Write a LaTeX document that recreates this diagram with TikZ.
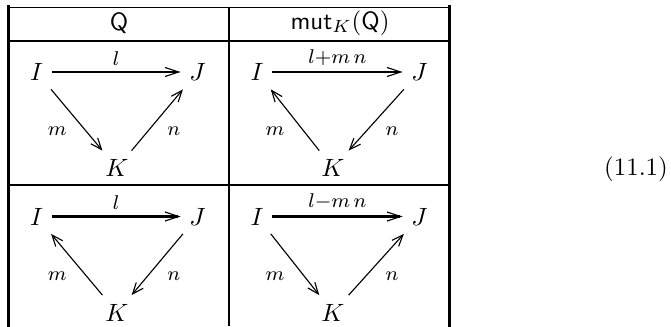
\documentclass[tikz,border=0pt]{standalone}
\usetikzlibrary{arrows.meta}
\begin{document}
\begin{tikzpicture}[x=0.4pt,y=-0.4pt,
  obj/.style={inner sep=3.33pt, font=\normalsize},
  lab/.style={inner sep=1pt, font=\footnotesize},
  hdr/.style={inner sep=0pt, font=\normalsize},
  frame/.style={line width=1.2pt, line cap=rect},
  rule/.style={line width=0.75pt},
  arr/.style={line width=0.45pt, -{Straight Barb[length=4.5pt,width=3.6pt,line width=0.45pt]}},
  harr/.style={line width=0.85pt, -{Straight Barb[length=5.5pt,width=3.6pt,line width=0.45pt]}}]
\useasboundingbox (0,0) rectangle (671,326);
% table lines
\draw[rule] (8,7.5) -- (450,7.5);
\draw[rule] (8,41) -- (450,41);
\draw[rule] (8,185) -- (450,185);
\draw[frame] (8.5,7) -- (8.5,326);
\draw[rule] (229,7) -- (229,326);
\draw[frame] (449.5,7) -- (449.5,326);
% headers
\node[hdr] (h1) at (119,23) {$\mathsf{Q}$};
\node[hdr] (h2) at (340,23) {$\mathsf{mut}_K(\mathsf{Q})$};
% equation number
\node[inner sep=0pt] (eq) at (636,169) {(11.1)};
% cell 1: Q, top
\node[obj] (I1) at (36.5,72) {$I$};
\node[obj] (J1) at (197.5,72) {$J$};
\node[obj] (K1) at (117,168) {$K$};
\draw[harr] (I1) -- node[lab, above=1.2pt] (l1) {$l$} (J1);
\draw[arr] (I1) -- node[lab, pos=0.69, left=6.7pt] (m1) {$m$} (K1);
\draw[arr] (K1) -- node[lab, pos=0.31, right=6.7pt] (n1) {$n$} (J1);
% cell 2: mut, top
\node[obj] (I2) at (257,72) {$I$};
\node[obj] (J2) at (419.5,72) {$J$};
\node[obj] (K2) at (333,168) {$K$};
\draw[harr] (I2) -- node[lab, above=1.2pt] (l2) {$l{+}m\,n$} (J2);
\draw[arr] (K2) -- node[lab, pos=0.31, left=6.7pt] (m2) {$m$} (I2);
\draw[arr] (J2) -- node[lab, pos=0.69, right=6.7pt] (n2) {$n$} (K2);
% cell 3: Q, bottom
\node[obj] (I3) at (36.5,216.5) {$I$};
\node[obj] (J3) at (197.5,216.5) {$J$};
\node[obj] (K3) at (117,312.5) {$K$};
\draw[harr] (I3) -- node[lab, above=1.2pt] (l3) {$l$} (J3);
\draw[arr] (K3) -- node[lab, pos=0.31, left=6.7pt] (m3) {$m$} (I3);
\draw[arr] (J3) -- node[lab, pos=0.69, right=6.7pt] (n3) {$n$} (K3);
% cell 4: mut, bottom
\node[obj] (I4) at (257,216.5) {$I$};
\node[obj] (J4) at (419.5,216.5) {$J$};
\node[obj] (K4) at (333,312.5) {$K$};
\draw[harr] (I4) -- node[lab, above=1.2pt] (l4) {$l{-}m\,n$} (J4);
\draw[arr] (I4) -- node[lab, pos=0.69, left=6.7pt] (m4) {$m$} (K4);
\draw[arr] (K4) -- node[lab, pos=0.31, right=6.7pt] (n4) {$n$} (J4);
\end{tikzpicture}
\end{document}
